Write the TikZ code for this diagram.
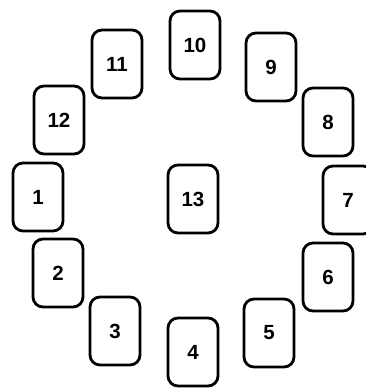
\documentclass[tikz,border=0pt]{standalone}
\usepackage{fontspec}
\setmainfont{Liberation Sans}
\usepackage{tikz}

\begin{document}
\begin{tikzpicture}[x=1pt, y=-1pt,
    seat/.style={draw, line width=2.8pt, rounded corners=10pt,
        minimum width=50pt, minimum height=68pt, inner sep=0pt,
        font=\fontsize{20.5}{22}\selectfont\bfseries}]
    \clip (0,0) rectangle (366,388);
    \useasboundingbox (0,0) rectangle (366,388);
    % seats round the table, and the one in the middle
    \foreach \n/\x/\y in {1/38/197, 2/58/273, 3/115/331, 4/193/352,
        5/269/333, 6/328/277, 7/348/200, 8/328/122, 9/271/67,
        10/195/45, 11/117/64, 12/59/120, 13/193/199} {
        \node[seat] (s\n) at (\x,\y) {\n};
    }
\end{tikzpicture}
\end{document}
